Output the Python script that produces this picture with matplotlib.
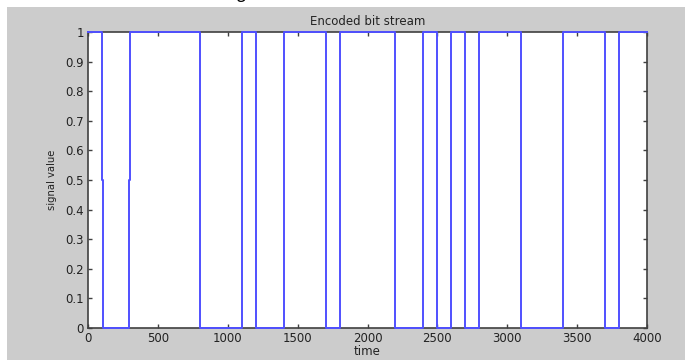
import matplotlib
matplotlib.use('Agg')
import matplotlib.pyplot as plt
import numpy as np

# switching instants of the encoded stream and the level after each one
t_switch = [100, 300, 800, 1100, 1200, 1400, 1700, 1800, 2200, 2400,
            2500, 2600, 2700, 2800, 3100, 3400, 3700, 3800]
level_after = [0, 1, 0, 1, 0, 1, 0, 1, 0, 1, 0, 1, 0, 1, 0, 1, 0, 1]
start_level = 1
t_end = 4000
# the first two edges pass through a 0.5 sample
mid_edges = {100: (100, 107), 300: (293, 300)}

xticks = np.arange(0, 4001, 500)
yticks = np.round(np.arange(0, 1.01, 0.1), 1)
ytick_labels = ['0'] + ['%.1f' % v for v in yticks[1:-1]] + ['1']

# build step trace
t = [0]
y = [start_level]
prev = start_level
for ts, lv in zip(t_switch, level_after):
    if ts in mid_edges:
        a, b = mid_edges[ts]
        t += [a, a, b, b]
        y += [prev, 0.5, 0.5, lv]
    else:
        t += [ts, ts]
        y += [prev, lv]
    prev = lv
t.append(t_end)
y.append(prev)

plt.rcParams['font.family'] = ['DejaVu Sans']
fig = plt.figure(figsize=(6.85, 3.6), dpi=100)
fig.patch.set_facecolor('white')
# gray figure panel (white strip left and top)
fig.patches.append(plt.Rectangle((7 / 685, 0), 1, 1 - 7 / 360,
                                 transform=fig.transFigure,
                                 facecolor='#cccccc', edgecolor='none', zorder=-5))
# caption of the page, mostly cut off at the top edge
fig.text(0.505, 1 + 2.5 / 360, 'Figure 4: Encoded bit stream', ha='center',
         va='baseline', fontsize=14, style='italic', family='Liberation Sans',
         color='black', zorder=-4)

ax = fig.add_axes([88 / 685, 32 / 360, 559 / 685, 296 / 360])
ax.set_zorder(2)
ax.set_facecolor('white')
ax.plot(t, y, color='#5050ff', linewidth=1.4, clip_on=False, zorder=3)
ax.set_xlim(0, 4000)
ax.set_ylim(0, 1)
ax.set_xticks(xticks)
ax.set_yticks(yticks)
ax.set_yticklabels(ytick_labels)
ax.tick_params(direction='in', length=3, width=1, color='#404040',
               top=True, right=True, labelsize=8.5, labelcolor='#222222', pad=3)
for s in ax.spines.values():
    s.set_color('#404040')
    s.set_linewidth(1.2)
ax.set_title('Encoded bit stream', fontsize=8.5, color='#222222', pad=5)
ax.set_xlabel('time', fontsize=8.5, color='#222222', labelpad=0)
ax.set_ylabel('signal value', fontsize=8, color='#222222', labelpad=6,
              fontstretch='condensed', family='Liberation Sans Narrow')

fig.savefig('out.png', dpi=100, facecolor=fig.get_facecolor())
